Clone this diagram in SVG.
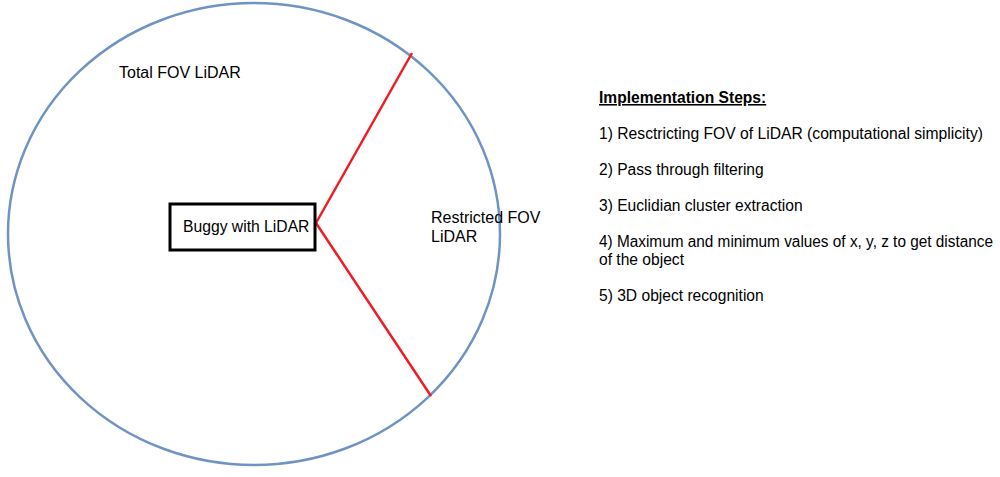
<svg xmlns="http://www.w3.org/2000/svg" width="1000" height="477" viewBox="0 0 1000 477">
<style>
text{font-family:"Liberation Sans",Arial,sans-serif;font-size:16px;fill:#000}
.list text{font-size:15.6px}
.red{stroke:#ee1c24;stroke-width:2.5;fill:none}
</style>
<rect width="1000" height="477" fill="#fff"/>
<g id="fov-total">
<ellipse cx="254" cy="234" rx="246" ry="231" fill="none" stroke="#6f93c3" stroke-width="2.5"/>
<text x="119" y="78">Total FOV LiDAR</text>
</g>
<g id="connectors">
<line class="red" x1="316" y1="223" x2="412" y2="53"/>
<line class="red" x1="316" y1="223" x2="431" y2="396"/>
</g>
<g id="buggy">
<rect x="170" y="204" width="145" height="46" fill="#fff" stroke="#000" stroke-width="3"/>
<text x="183" y="232" style="font-size:15.7px">Buggy with LiDAR</text>
</g>
<g id="restricted">
<text x="431" y="223">Restricted FOV</text>
<text x="431" y="242">LiDAR</text>
</g>
<g id="steps" class="list">
<text x="599" y="103" font-weight="bold" text-decoration="underline">Implementation Steps:</text>
<text x="599" y="139" textLength="384" lengthAdjust="spacingAndGlyphs">1) Resctricting FOV of LiDAR (computational simplicity)</text>
<text x="599" y="175">2) Pass through filtering</text>
<text x="599" y="211">3) Euclidian cluster extraction</text>
<text x="599" y="247" textLength="394" lengthAdjust="spacingAndGlyphs">4) Maximum and minimum values of x, y, z to get distance</text>
<text x="599" y="265">of the object</text>
<text x="599" y="301">5) 3D object recognition</text>
</g>
</svg>
